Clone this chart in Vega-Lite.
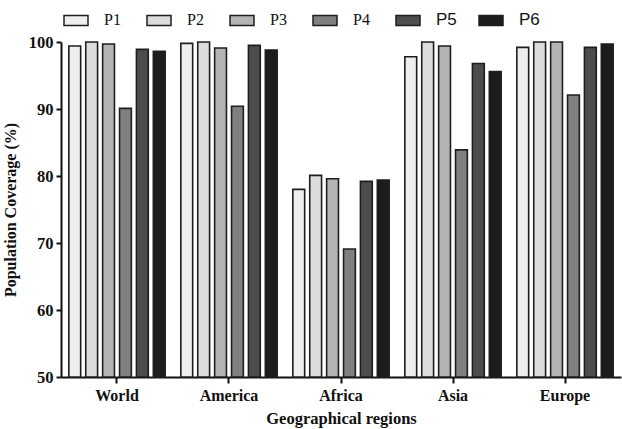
{
  "$schema": "https://vega.github.io/schema/vega-lite/v6.json",
  "width": 560,
  "height": 335,
  "autosize": {"type": "none"},
  "padding": {"left": 61, "top": 42, "right": 1, "bottom": 52},
  "background": "white",
  "config": {
    "view": {"stroke": null},
    "font": "Liberation Serif"
  },
  "data": {
    "values": [
      {"region": "World", "series": "P1", "value": 99.4},
      {"region": "World", "series": "P2", "value": 100},
      {"region": "World", "series": "P3", "value": 99.7},
      {"region": "World", "series": "P4", "value": 90.1},
      {"region": "World", "series": "P5", "value": 98.9},
      {"region": "World", "series": "P6", "value": 98.6},
      {"region": "America", "series": "P1", "value": 99.8},
      {"region": "America", "series": "P2", "value": 100},
      {"region": "America", "series": "P3", "value": 99.1},
      {"region": "America", "series": "P4", "value": 90.4},
      {"region": "America", "series": "P5", "value": 99.5},
      {"region": "America", "series": "P6", "value": 98.8},
      {"region": "Africa", "series": "P1", "value": 78.0},
      {"region": "Africa", "series": "P2", "value": 80.1},
      {"region": "Africa", "series": "P3", "value": 79.6},
      {"region": "Africa", "series": "P4", "value": 69.1},
      {"region": "Africa", "series": "P5", "value": 79.2},
      {"region": "Africa", "series": "P6", "value": 79.4},
      {"region": "Asia", "series": "P1", "value": 97.8},
      {"region": "Asia", "series": "P2", "value": 100},
      {"region": "Asia", "series": "P3", "value": 99.4},
      {"region": "Asia", "series": "P4", "value": 83.9},
      {"region": "Asia", "series": "P5", "value": 96.8},
      {"region": "Asia", "series": "P6", "value": 95.6},
      {"region": "Europe", "series": "P1", "value": 99.2},
      {"region": "Europe", "series": "P2", "value": 100},
      {"region": "Europe", "series": "P3", "value": 100},
      {"region": "Europe", "series": "P4", "value": 92.1},
      {"region": "Europe", "series": "P5", "value": 99.2},
      {"region": "Europe", "series": "P6", "value": 99.7}
    ]
  },
  "mark": {"type": "bar", "stroke": "#1e1e1e", "strokeWidth": 1.6},
  "encoding": {
    "x": {
      "field": "region",
      "type": "nominal",
      "sort": ["World", "America", "Africa", "Asia", "Europe"],
      "scale": {"paddingInner": 0.14, "paddingOuter": 0.07},
      "axis": {
        "title": "Geographical regions",
        "titleFont": "Liberation Serif",
        "titleFontSize": 16.5,
        "titleFontWeight": "bold",
        "titleColor": "#111",
        "titlePadding": 7,
        "labelAngle": 0,
        "labelFont": "Liberation Serif",
        "labelFontSize": 16,
        "labelFontWeight": "bold",
        "labelColor": "#111",
        "labelPadding": 4,
        "domainColor": "#111",
        "domainWidth": 2,
        "tickColor": "#111",
        "tickWidth": 2,
        "tickSize": 6,
        "offset": 0
      }
    },
    "xOffset": {
      "field": "series",
      "type": "nominal",
      "scale": {"paddingInner": 0.3, "paddingOuter": 0}
    },
    "y": {
      "field": "value",
      "type": "quantitative",
      "scale": {"domain": [50, 100], "nice": false, "zero": false},
      "axis": {
        "title": "Population Coverage (%)",
        "titleFont": "Liberation Serif",
        "titleFontSize": 16,
        "titleFontWeight": "bold",
        "titleColor": "#111",
        "titlePadding": 10,
        "values": [50, 60, 70, 80, 90, 100],
        "grid": false,
        "labelFont": "Liberation Serif",
        "labelFontSize": 16.5,
        "labelFontWeight": "bold",
        "labelColor": "#111",
        "labelPadding": 3,
        "domainColor": "#111",
        "domainWidth": 2,
        "tickColor": "#111",
        "tickWidth": 2,
        "tickSize": 5
      }
    },
    "y2": {"datum": 50},
    "fill": {
      "field": "series",
      "type": "nominal",
      "scale": {
        "domain": ["P1", "P2", "P3", "P4", "P5", "P6"],
        "range": ["#eeeeee", "#dcdcdc", "#b4b4b4", "#808080", "#4d4d4d", "#1c1c1c"]
      },
      "legend": {
        "title": null,
        "orient": "none",
        "legendX": 2,
        "legendY": -35,
        "direction": "horizontal",
        "columns": 6,
        "columnPadding": 19,
        "gridAlign": "all",
        "padding": 0,
        "symbolType": "M-1,-0.42H1V0.42H-1Z",
        "symbolSize": 576,
        "symbolStrokeColor": "#1e1e1e",
        "symbolStrokeWidth": 1.5,
        "symbolOpacity": 1,
        "labelOffset": 15,
        "labelFont": "Liberation Serif",
        "labelFontSize": 16,
        "labelColor": "#111",
        "encode": {
          "labels": {
            "update": {
              "font": {"signal": "datum.label == 'P5' || datum.label == 'P6' ? 'Liberation Sans' : 'Liberation Serif'"},
              "fontSize": {"signal": "datum.label == 'P5' || datum.label == 'P6' ? 17 : 16"}
            }
          }
        }
      }
    }
  }
}
